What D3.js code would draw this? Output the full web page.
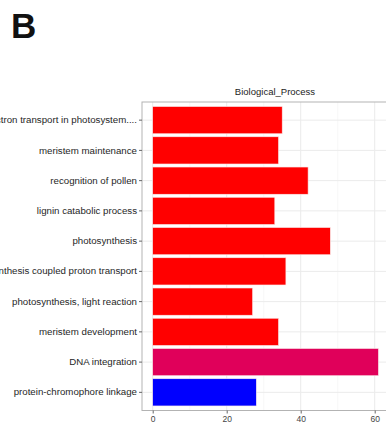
<!DOCTYPE html>
<html>
<head>
<meta charset="utf-8">
<script src="https://cdn.jsdelivr.net/npm/d3@7"></script>
<style>
  html, body { margin: 0; padding: 0; background: #fff; }
  svg { display: block; font-family: "Liberation Sans", Arial, sans-serif; }
</style>
</head>
<body>
<svg id="chart" width="386" height="426"></svg>
<script>
// GO terms (top to bottom) with gene counts and fill colours
const terms = [
  "photosynthetic electron transport in photosystem....",
  "meristem maintenance",
  "recognition of pollen",
  "lignin catabolic process",
  "photosynthesis",
  "ATP synthesis coupled proton transport",
  "photosynthesis, light reaction",
  "meristem development",
  "DNA integration",
  "protein-chromophore linkage"
];
const counts = [35, 34, 42, 33, 48, 36, 27, 34, 61, 28];
const fills = ["#ff0000", "#ff0000", "#ff0000", "#ff0000", "#ff0000",
               "#ff0000", "#ff0000", "#ff0000", "#e0005a", "#0000ff"];
const xTicks = [0, 20, 40, 60];
const xMinor = [10, 30, 50, 70];
const title = "Biological_Process";

const svg = d3.select("#chart");
const panel = { left: 142, top: 102, right: 408, bottom: 410.5 };

const x = d3.scaleLinear().domain([0, 60]).range([152.7, 374.7]);
const y = d3.scaleBand().domain(terms)
  .range([panel.top, panel.bottom]).paddingInner(0.1).paddingOuter(0.15);

// panel label
svg.append("text").attr("x", 11).attr("y", 38)
  .attr("font-size", 35).attr("font-weight", "bold").attr("fill", "#111")
  .text("B");

// gridlines
const grid = svg.append("g");
grid.selectAll(".minor").data(xMinor).join("line")
  .attr("x1", d => x(d)).attr("x2", d => x(d))
  .attr("y1", panel.top).attr("y2", panel.bottom)
  .attr("stroke", "#f2f2f2").attr("stroke-width", 0.6);
grid.selectAll(".major").data(xTicks).join("line")
  .attr("x1", d => x(d)).attr("x2", d => x(d))
  .attr("y1", panel.top).attr("y2", panel.bottom)
  .attr("stroke", "#ebebeb").attr("stroke-width", 1);
grid.selectAll(".hmajor").data(terms).join("line")
  .attr("x1", panel.left).attr("x2", panel.right)
  .attr("y1", d => y(d) + y.bandwidth() / 2).attr("y2", d => y(d) + y.bandwidth() / 2)
  .attr("stroke", "#ebebeb").attr("stroke-width", 1);

// bars
svg.append("g").selectAll("rect").data(terms).join("rect")
  .attr("x", x(0))
  .attr("y", d => y(d))
  .attr("width", (d, i) => x(counts[i]) - x(0))
  .attr("height", y.bandwidth())
  .attr("fill", (d, i) => fills[i])
  .attr("stroke", "#fbe9e9").attr("stroke-width", 0.6);

// panel border
svg.append("rect")
  .attr("x", panel.left).attr("y", panel.top)
  .attr("width", panel.right - panel.left).attr("height", panel.bottom - panel.top)
  .attr("fill", "none").attr("stroke", "#b3b3b3").attr("stroke-width", 1);

// y axis
const yAxis = svg.append("g")
  .attr("transform", `translate(${panel.left},0)`)
  .call(d3.axisLeft(y).tickSize(3).tickPadding(2));
yAxis.select(".domain").remove();
yAxis.selectAll(".tick line").attr("stroke", "#666");
yAxis.selectAll(".tick text").attr("font-size", 9.7).attr("fill", "#262626")
  .attr("font-family", "Liberation Sans, Arial, sans-serif");

// x axis
const xAxis = svg.append("g")
  .attr("transform", `translate(0,${panel.bottom})`)
  .call(d3.axisBottom(x).tickValues(xTicks).tickSize(3).tickPadding(2));
xAxis.select(".domain").remove();
xAxis.selectAll(".tick line").attr("stroke", "#666");
xAxis.selectAll(".tick text").attr("font-size", 8.5).attr("fill", "#444")
  .attr("font-family", "Liberation Sans, Arial, sans-serif");

// title
svg.append("text")
  .attr("x", (panel.left + panel.right) / 2).attr("y", 95)
  .attr("text-anchor", "middle").attr("font-size", 9.5).attr("fill", "#222")
  .text(title);
</script>
</body>
</html>
